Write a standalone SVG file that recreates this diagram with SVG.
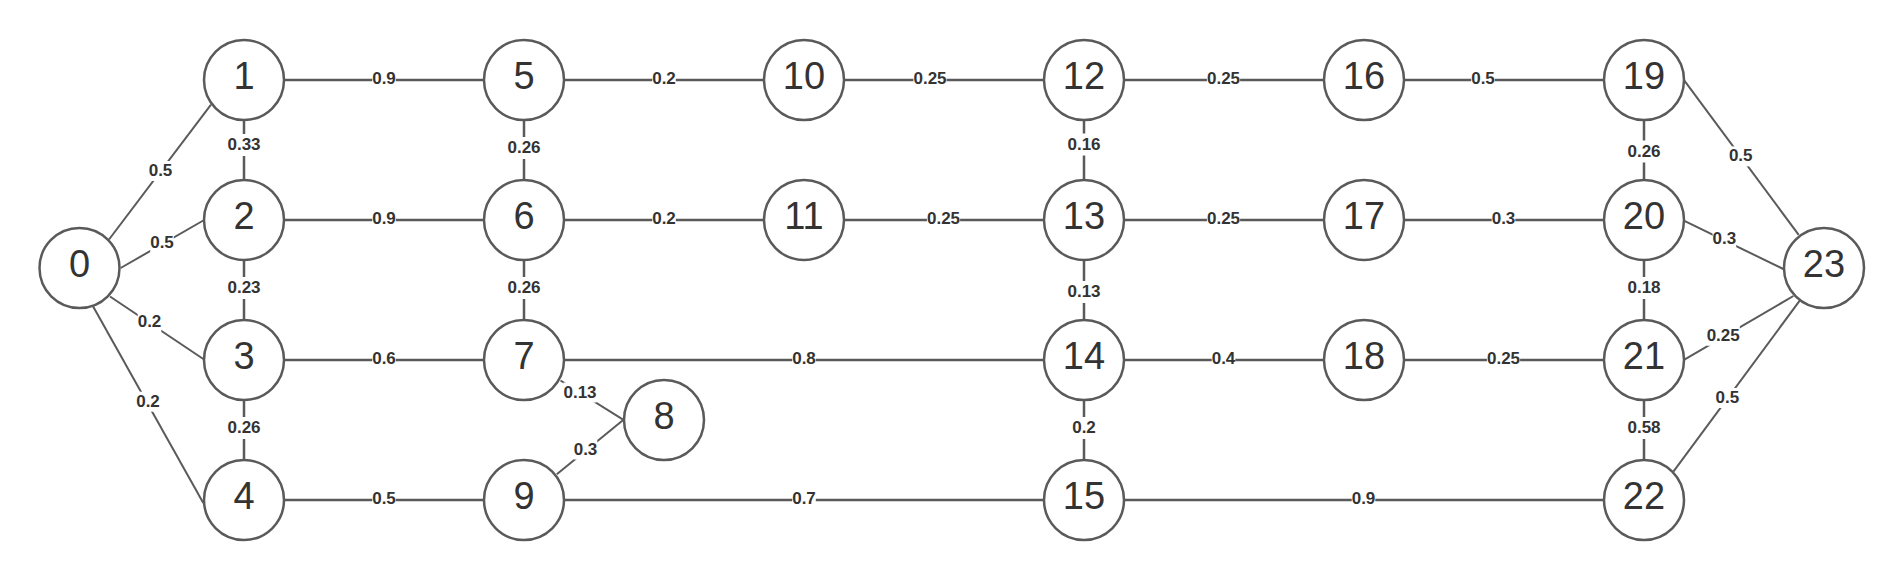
<svg xmlns="http://www.w3.org/2000/svg" width="1904" height="580" viewBox="0 0 1904 580">
<style>
.bg{fill:#ffffff}
.e{stroke:#5a5a5a;stroke-width:2.5;fill:none}
.d{stroke:#5a5a5a;stroke-width:2;fill:none}
.n circle{fill:#ffffff;stroke:#5a5a5a;stroke-width:2.5}
.n text{font-family:"Liberation Sans",Arial,sans-serif;font-size:38px;fill:#333333;text-anchor:middle}
.l rect{fill:#ffffff}
.l text{font-family:"Liberation Sans",Arial,sans-serif;font-size:17px;font-weight:bold;fill:#333333;text-anchor:middle}
</style>
<rect class="bg" x="0" y="0" width="1904" height="580"/>
<g id="connectors">
  <line class="e" x1="244" y1="80" x2="524" y2="80"/>
  <line class="e" x1="524" y1="80" x2="804" y2="80"/>
  <line class="e" x1="804" y1="80" x2="1084" y2="80"/>
  <line class="e" x1="1084" y1="80" x2="1364" y2="80"/>
  <line class="e" x1="1364" y1="80" x2="1644" y2="80"/>
  <line class="e" x1="244" y1="220" x2="524" y2="220"/>
  <line class="e" x1="524" y1="220" x2="804" y2="220"/>
  <line class="e" x1="804" y1="220" x2="1084" y2="220"/>
  <line class="e" x1="1084" y1="220" x2="1364" y2="220"/>
  <line class="e" x1="1364" y1="220" x2="1644" y2="220"/>
  <line class="e" x1="244" y1="360" x2="524" y2="360"/>
  <line class="e" x1="524" y1="360" x2="1084" y2="360"/>
  <line class="e" x1="1084" y1="360" x2="1364" y2="360"/>
  <line class="e" x1="1364" y1="360" x2="1644" y2="360"/>
  <line class="e" x1="244" y1="500" x2="524" y2="500"/>
  <line class="e" x1="524" y1="500" x2="1084" y2="500"/>
  <line class="e" x1="1084" y1="500" x2="1644" y2="500"/>
  <line class="e" x1="244" y1="80" x2="244" y2="500"/>
  <line class="e" x1="524" y1="80" x2="524" y2="360"/>
  <line class="e" x1="1084" y1="80" x2="1084" y2="500"/>
  <line class="e" x1="1644" y1="80" x2="1644" y2="500"/>
  <line class="d" x1="109" y1="239.5" x2="211" y2="104.7"/>
  <line class="d" x1="120.7" y1="268" x2="203.3" y2="220.5"/>
  <line class="d" x1="110" y1="296.5" x2="203.3" y2="359"/>
  <line class="d" x1="93" y1="306.3" x2="203.3" y2="503"/>
  <line class="d" x1="560.5" y1="380.5" x2="623.5" y2="419.8"/>
  <line class="d" x1="623.5" y1="419.8" x2="556.8" y2="474.3"/>
  <line class="d" x1="1684.4" y1="80.7" x2="1798.7" y2="234.9"/>
  <line class="d" x1="1684.4" y1="220.9" x2="1783.2" y2="269"/>
  <line class="d" x1="1684.4" y1="359.6" x2="1793.4" y2="296"/>
  <line class="d" x1="1673.4" y1="471.7" x2="1799.9" y2="300.4"/>
</g>
<g id="edge-labels" class="l">
  <rect x="372.2" y="69" width="23.6" height="20"/><text x="384" y="84">0.9</text>
  <rect x="652.2" y="69" width="23.6" height="20"/><text x="664" y="84">0.2</text>
  <rect x="913.4" y="69" width="33.2" height="20"/><text x="930" y="84">0.25</text>
  <rect x="1206.9" y="69" width="33.2" height="20"/><text x="1223.5" y="84">0.25</text>
  <rect x="1471.2" y="69" width="23.6" height="20"/><text x="1483" y="84">0.5</text>
  <rect x="372.2" y="209" width="23.6" height="20"/><text x="384" y="224">0.9</text>
  <rect x="652.2" y="209" width="23.6" height="20"/><text x="664" y="224">0.2</text>
  <rect x="926.9" y="209" width="33.2" height="20"/><text x="943.5" y="224">0.25</text>
  <rect x="1206.9" y="209" width="33.2" height="20"/><text x="1223.5" y="224">0.25</text>
  <rect x="1491.7" y="209" width="23.6" height="20"/><text x="1503.5" y="224">0.3</text>
  <rect x="372.2" y="349" width="23.6" height="20"/><text x="384" y="364">0.6</text>
  <rect x="792.2" y="349" width="23.6" height="20"/><text x="804" y="364">0.8</text>
  <rect x="1211.7" y="349" width="23.6" height="20"/><text x="1223.5" y="364">0.4</text>
  <rect x="1486.9" y="349" width="33.2" height="20"/><text x="1503.5" y="364">0.25</text>
  <rect x="372.2" y="489" width="23.6" height="20"/><text x="384" y="504">0.5</text>
  <rect x="792.2" y="489" width="23.6" height="20"/><text x="804" y="504">0.7</text>
  <rect x="1351.7" y="489" width="23.6" height="20"/><text x="1363.5" y="504">0.9</text>
  <rect x="227.4" y="134" width="33.2" height="22"/><text x="244" y="150">0.33</text>
  <rect x="507.4" y="137" width="33.2" height="22"/><text x="524" y="153">0.26</text>
  <rect x="227.4" y="277" width="33.2" height="22"/><text x="244" y="293">0.23</text>
  <rect x="507.4" y="277" width="33.2" height="22"/><text x="524" y="293">0.26</text>
  <rect x="227.4" y="417" width="33.2" height="22"/><text x="244" y="433">0.26</text>
  <rect x="1067.4" y="133.5" width="33.2" height="22"/><text x="1084" y="149.5">0.16</text>
  <rect x="1067.4" y="281" width="33.2" height="22"/><text x="1084" y="297">0.13</text>
  <rect x="1072.2" y="417" width="23.6" height="22"/><text x="1084" y="433">0.2</text>
  <rect x="1627.4" y="140.5" width="33.2" height="22"/><text x="1644" y="156.5">0.26</text>
  <rect x="1627.4" y="277" width="33.2" height="22"/><text x="1644" y="293">0.18</text>
  <rect x="1627.4" y="417" width="33.2" height="22"/><text x="1644" y="433">0.58</text>
  <rect x="148.7" y="161" width="23.6" height="20"/><text x="160.5" y="176">0.5</text>
  <rect x="150.2" y="232.6" width="23.6" height="20"/><text x="162" y="247.6">0.5</text>
  <rect x="137.7" y="312" width="23.6" height="20"/><text x="149.5" y="327">0.2</text>
  <rect x="136.2" y="391.7" width="23.6" height="20"/><text x="148" y="406.7">0.2</text>
  <rect x="563.4" y="382.5" width="33.2" height="20"/><text x="580" y="397.5">0.13</text>
  <rect x="573.7" y="439.5" width="23.6" height="20"/><text x="585.5" y="454.5">0.3</text>
  <rect x="1728.9" y="146.4" width="23.6" height="20"/><text x="1740.7" y="161.4">0.5</text>
  <rect x="1712.6" y="229" width="23.6" height="20"/><text x="1724.4" y="244">0.3</text>
  <rect x="1706.6" y="325.8" width="33.2" height="20"/><text x="1723.2" y="340.8">0.25</text>
  <rect x="1715.5" y="388" width="23.6" height="20"/><text x="1727.3" y="403">0.5</text>
</g>
<g id="node-0" class="n"><circle cx="79.5" cy="268" r="40"/><text x="79.5" y="276.5">0</text></g>
<g id="node-1" class="n"><circle cx="244" cy="80" r="40"/><text x="244" y="88.5">1</text></g>
<g id="node-2" class="n"><circle cx="244" cy="220" r="40"/><text x="244" y="228.5">2</text></g>
<g id="node-3" class="n"><circle cx="244" cy="360" r="40"/><text x="244" y="368.5">3</text></g>
<g id="node-4" class="n"><circle cx="244" cy="500" r="40"/><text x="244" y="508.5">4</text></g>
<g id="node-5" class="n"><circle cx="524" cy="80" r="40"/><text x="524" y="88.5">5</text></g>
<g id="node-6" class="n"><circle cx="524" cy="220" r="40"/><text x="524" y="228.5">6</text></g>
<g id="node-7" class="n"><circle cx="524" cy="360" r="40"/><text x="524" y="368.5">7</text></g>
<g id="node-8" class="n"><circle cx="664" cy="420" r="40"/><text x="664" y="428.5">8</text></g>
<g id="node-9" class="n"><circle cx="524" cy="500" r="40"/><text x="524" y="508.5">9</text></g>
<g id="node-10" class="n"><circle cx="804" cy="80" r="40"/><text x="804" y="88.5">10</text></g>
<g id="node-11" class="n"><circle cx="804" cy="220" r="40"/><text x="804" y="228.5">11</text></g>
<g id="node-12" class="n"><circle cx="1084" cy="80" r="40"/><text x="1084" y="88.5">12</text></g>
<g id="node-13" class="n"><circle cx="1084" cy="220" r="40"/><text x="1084" y="228.5">13</text></g>
<g id="node-14" class="n"><circle cx="1084" cy="360" r="40"/><text x="1084" y="368.5">14</text></g>
<g id="node-15" class="n"><circle cx="1084" cy="500" r="40"/><text x="1084" y="508.5">15</text></g>
<g id="node-16" class="n"><circle cx="1364" cy="80" r="40"/><text x="1364" y="88.5">16</text></g>
<g id="node-17" class="n"><circle cx="1364" cy="220" r="40"/><text x="1364" y="228.5">17</text></g>
<g id="node-18" class="n"><circle cx="1364" cy="360" r="40"/><text x="1364" y="368.5">18</text></g>
<g id="node-19" class="n"><circle cx="1644" cy="80" r="40"/><text x="1644" y="88.5">19</text></g>
<g id="node-20" class="n"><circle cx="1644" cy="220" r="40"/><text x="1644" y="228.5">20</text></g>
<g id="node-21" class="n"><circle cx="1644" cy="360" r="40"/><text x="1644" y="368.5">21</text></g>
<g id="node-22" class="n"><circle cx="1644" cy="500" r="40"/><text x="1644" y="508.5">22</text></g>
<g id="node-23" class="n"><circle cx="1824" cy="268" r="40"/><text x="1824" y="276.5">23</text></g>
</svg>
